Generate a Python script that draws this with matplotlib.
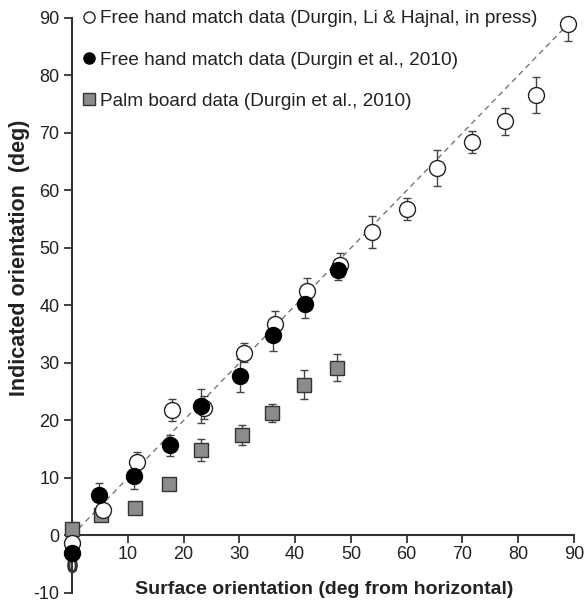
import numpy as np
import matplotlib.pyplot as plt
from matplotlib.lines import Line2D

plt.rcParams['font.family'] = ['Liberation Sans', 'DejaVu Sans']
plt.rcParams['axes.unicode_minus'] = False

# open circles: Durgin, Li & Hajnal (in press)
open_x = [0, 5.6, 11.6, 17.9, 23.7, 30.9, 36.4, 42.1, 48.0, 53.7, 60.0, 65.5, 71.7, 77.6, 83.2, 89.0]
open_y = [-1.3, 4.4, 12.8, 21.8, 22.2, 31.8, 36.7, 42.6, 47.0, 52.8, 56.8, 63.9, 68.5, 72.0, 76.6, 89.0]
open_err = [0.0, 0.0, 1.8, 1.9, 2.0, 1.7, 2.4, 2.2, 2.1, 2.8, 1.9, 3.2, 1.9, 2.4, 3.2, 3.0]
# small extra open marker below zero
odd_x = [0]
odd_y = [-5.2]

# filled circles: Durgin et al., 2010
fill_x = [0, 4.9, 11.1, 17.6, 23.2, 30.2, 36.0, 41.8, 47.7]
fill_y = [-3.0, 7.0, 10.3, 15.7, 22.5, 27.8, 34.9, 40.3, 46.2]
fill_err = [0.0, 2.2, 2.3, 1.8, 3.0, 2.9, 2.8, 2.4, 1.8]

# gray squares: palm board, Durgin et al., 2010
sq_x = [0, 5.2, 11.3, 17.4, 23.2, 30.4, 35.8, 41.6, 47.5]
sq_y = [1.1, 3.5, 4.7, 9.0, 14.9, 17.5, 21.3, 26.2, 29.2]
sq_err = [0.0, 0.0, 0.0, 0.0, 1.9, 1.8, 1.5, 2.5, 2.3]

legend_labels = ['Free hand match data (Durgin, Li & Hajnal, in press)',
                 'Free hand match data (Durgin et al., 2010)',
                 'Palm board data (Durgin et al., 2010)']

fig = plt.figure(figsize=(5.85, 6.06), dpi=100)
ax = fig.add_axes([0.1231, 0.0215, 0.8581, 0.9488])

ax.plot([0, 90], [0, 90], ls=(0, (4, 3)), color='#777777', lw=1, zorder=1)

ebkw = dict(fmt='none', ecolor='#444444', elinewidth=1, capsize=3, capthick=1, zorder=2)
ax.errorbar(open_x, open_y, yerr=open_err, **ebkw)
ax.errorbar(fill_x, fill_y, yerr=fill_err, **ebkw)
ax.errorbar(sq_x, sq_y, yerr=sq_err, **ebkw)

ax.plot(sq_x, sq_y, 's', ms=10.5, mfc='#8c8c8c', mec='#333333', mew=1, zorder=3, clip_on=False)
ax.plot(open_x, open_y, 'o', ms=11.5, mfc='white', mec='#222222', mew=1, zorder=4, clip_on=False)
ax.plot(fill_x, fill_y, 'o', ms=11.5, mfc='black', mec='black', mew=1, zorder=5, clip_on=False)
ax.plot(odd_x, odd_y, marker=r'$\mathsf{0}$', ms=10, color='#333333', ls='none', zorder=4, clip_on=False)

ax.set_xlim(0, 90)
ax.set_ylim(-10, 90)
ax.spines['top'].set_visible(False)
ax.spines['right'].set_visible(False)
ax.spines['bottom'].set_position(('data', 0))
ax.spines['bottom'].set_bounds(0, 90)
for s in ['left', 'bottom']:
    ax.spines[s].set_linewidth(1.5)
    ax.spines[s].set_color('#333333')

ax.set_xticks([10, 20, 30, 40, 50, 60, 70, 80, 90])
ax.set_yticks([-10, 0, 10, 20, 30, 40, 50, 60, 70, 80, 90])
ax.tick_params(direction='out', length=6, width=1.3, color='#333333', labelsize=13, labelcolor='#222222')
ax.tick_params(axis='x', pad=1.5)
ax.tick_params(axis='y', pad=3)

fig.text(324 / 585, 1 - 589 / 606, 'Surface orientation (deg from horizontal)',
         ha='center', va='center', fontsize=14, fontweight='bold', color='#222222')
fig.text(20 / 585, 1 - 258 / 606, 'Indicated orientation  (deg)', rotation=90,
         ha='center', va='center', fontsize=15.5, fontweight='bold', color='#222222')

handles = [Line2D([], [], marker='o', ls='none', ms=8, mfc='white', mec='#222222'),
           Line2D([], [], marker='s', ls='none', ms=8, mfc='#8c8c8c', mec='#333333')]
handles.insert(1, Line2D([], [], marker='o', ls='none', ms=8, mfc='black', mec='black'))
ax.legend(handles, legend_labels, loc='upper left', bbox_to_anchor=(-0.004, 1.027),
          frameon=False, fontsize=13.7, handletextpad=0.0, handlelength=1.2,
          labelspacing=1.25, borderaxespad=0, labelcolor='#222222')

fig.savefig('out.png', dpi=100)
